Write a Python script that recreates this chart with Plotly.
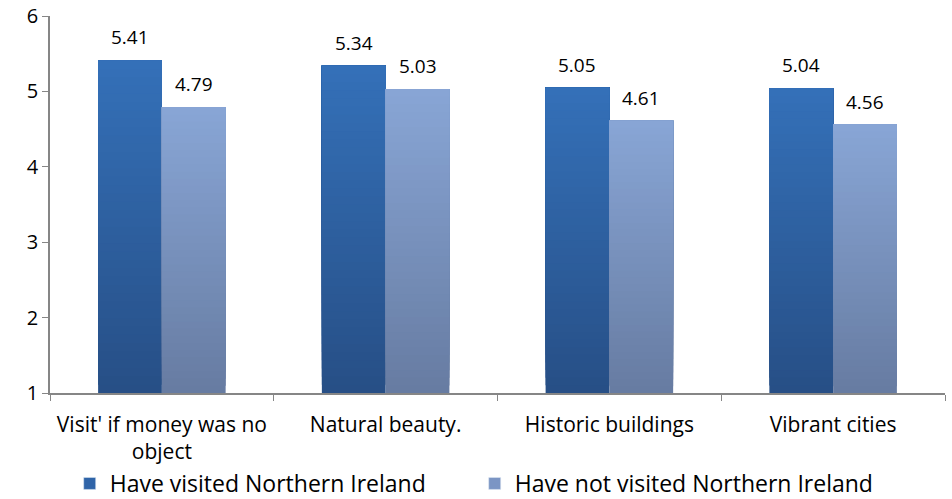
import plotly.graph_objects as go

categories = ["Visit' if money was no<br>object", "Natural beauty.", "Historic buildings", "Vibrant cities"]
visited = [5.41, 5.34, 5.05, 5.04]
not_visited = [4.79, 5.03, 4.61, 4.56]
series_names = ["Have visited Northern Ireland", "Have not visited Northern Ireland"]
y_ticks = [1, 2, 3, 4, 5, 6]

# gradient colours (top, bottom)
grad = [((0x34, 0x70, 0xB8), (0x27, 0x4F, 0x86)),
        ((0x88, 0xA5, 0xD5), (0x67, 0x7C, 0xA2))]
legend_col = ["#2F64A8", "#7B95C4"]

FONT = "Open Sans, Noto Sans, sans-serif"
N = 40
base_val = 1
fig = go.Figure()

def col(c0, c1, t):
    return "rgb(%d,%d,%d)" % tuple(round(a + (b - a) * t) for a, b in zip(c0, c1))

for si, vals in enumerate([visited, not_visited]):
    top, bot = grad[si]
    for k in range(N):
        t = k / (N - 1)
        starts = [base_val + (v - base_val) * k / N for v in vals]
        fig.add_trace(go.Bar(
            x=categories,
            y=[v - s for v, s in zip(vals, starts)],
            base=starts,
            offsetgroup=str(si),
            marker=dict(color=col(bot, top, t), line=dict(width=0)),
            showlegend=False,
            hoverinfo="skip",
        ))
    fig.add_trace(go.Bar(
        x=categories, y=[None] * len(categories), offsetgroup=str(si),
        name=series_names[si], marker=dict(color=legend_col[si]), showlegend=True,
    ))

for si, vals in enumerate([visited, not_visited]):
    for c, v in zip(categories, vals):
        fig.add_annotation(x=c, y=v, text="%.2f" % v, showarrow=False,
                           xshift=-32 if si == 0 else 32, yanchor="bottom", yshift=8,
                           font=dict(size=19, color="#000000", family=FONT))

fig.update_layout(
    width=952, height=499,
    margin=dict(l=50, r=7, t=16, b=106, autoexpand=False),
    paper_bgcolor="white", plot_bgcolor="white",
    barmode="group", bargap=0.43, bargroupgap=0,
    font=dict(family=FONT, color="#000000"),
    showlegend=True,
    legend=dict(orientation="h", x=0.022, xanchor="left", y=-0.24, yanchor="middle",
                font=dict(size=23), entrywidth=360, entrywidthmode="pixels",
                itemwidth=30, traceorder="normal", bgcolor="rgba(0,0,0,0)"),
)
fig.update_xaxes(showline=True, linecolor="#868686", linewidth=1.5, ticks="outside",
                 tickson="boundaries", ticklen=6, tickcolor="#868686",
                 tickfont=dict(size=21), showgrid=False, ticklabelstandoff=12)
fig.update_yaxes(range=[1, 6], tickvals=y_ticks, showline=True, linecolor="#868686", linewidth=1.5,
                 ticks="outside", ticklen=6, tickcolor="#868686", tickfont=dict(size=20),
                 showgrid=False, zeroline=False)

fig.write_html("out.html", config={"displayModeBar": False},
               post_script="document.body.style.margin='0';")
